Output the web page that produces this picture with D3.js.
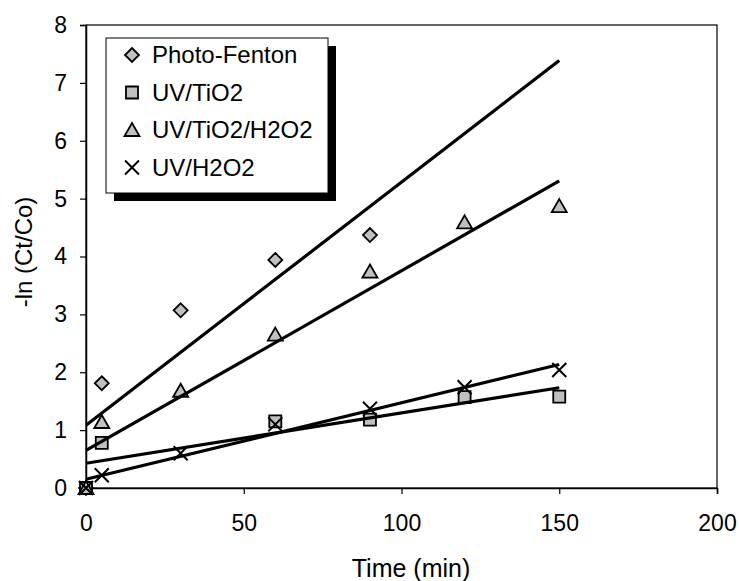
<!DOCTYPE html>
<html>
<head>
<meta charset="utf-8">
<script src="https://cdn.jsdelivr.net/npm/d3@7"></script>
<style>
    body { margin: 0; background: #fff; }
    svg text { font-family: "Liberation Sans", Arial, sans-serif; fill: #000; }
</style>
</head>
<body>
<div id="container"></div>
<script>
    "use strict";

    // time points (min); null = no measurement
    var times = [0, 5, 30, 60, 90, 120, 150];
    var photoFenton = [0, 1.81, 3.07, 3.94, 4.37, null, null];
    var uvTiO2 = [0, 0.78, null, 1.15, 1.18, 1.57, 1.58];
    var uvTiO2H2O2 = [0, 1.14, 1.68, 2.65, 3.74, 4.59, 4.87];
    var uvH2O2 = [0, 0.22, 0.6, 1.1, 1.37, 1.74, 2.04];

    var seriesNames = ["Photo-Fenton", "UV/TiO2", "UV/TiO2/H2O2", "UV/H2O2"];
    var seriesValues = [photoFenton, uvTiO2, uvTiO2H2O2, uvH2O2];
    var symbols = ["diamond", "square", "triangle", "cross"];

    var xTicks = [0, 50, 100, 150, 200];
    var yTicks = [0, 1, 2, 3, 4, 5, 6, 7, 8];

    var margin = { top: 25, left: 86, right: 22, bottom: 93 };
    var width = 739 - margin.left - margin.right,
        height = 581 - margin.top - margin.bottom;

    var x = d3.scaleLinear().domain([0, 200]).range([0, width]),
        y = d3.scaleLinear().domain([0, 8]).range([height, 0]);

    var svg = d3.select("#container").append("svg")
        .attr("width", 739)
        .attr("height", 581);

    var graph = svg.append("g")
        .attr("transform", "translate(" + margin.left + "," + margin.top + ")");

    // plot frame
    graph.append("rect")
        .attr("width", width)
        .attr("height", height)
        .attr("fill", "none")
        .attr("stroke", "#000")
        .attr("stroke-width", 1.2);

    var xAxis = graph.append("g")
        .attr("transform", "translate(0," + height + ")")
        .call(d3.axisBottom(x).tickValues(xTicks).tickSize(6).tickPadding(21));

    var yAxis = graph.append("g")
        .call(d3.axisLeft(y).tickValues(yTicks).tickSize(6).tickPadding(13));

    [xAxis, yAxis].forEach(function(a) {
        a.select(".domain").attr("stroke-width", 1.5);
        a.selectAll("line").attr("stroke-width", 1.2);
        a.selectAll("text")
            .style("font-family", "'Liberation Sans', Arial, sans-serif")
            .style("font-size", "23px");
    });

    svg.append("text")
        .attr("x", 411)
        .attr("y", 577)
        .attr("text-anchor", "middle")
        .style("font-size", "25px")
        .text("Time (min)");

    svg.append("text")
        .attr("transform", "translate(32,252) rotate(-90)")
        .attr("text-anchor", "middle")
        .style("font-size", "24px")
        .text("-ln (Ct/Co)");

    function points(vals) {
        var out = [];
        vals.forEach(function(v, i) {
            if (v !== null) out.push([times[i], v]);
        });
        return out;
    }

    // least squares line, like an Excel linear trendline
    function fit(pts) {
        var mx = d3.mean(pts, function(p) { return p[0]; }),
            my = d3.mean(pts, function(p) { return p[1]; });
        var sxy = d3.sum(pts, function(p) { return (p[0] - mx) * (p[1] - my); }),
            sxx = d3.sum(pts, function(p) { return (p[0] - mx) * (p[0] - mx); });
        var b = sxy / sxx;
        return { slope: b, intercept: my - b * mx };
    }

    function drawSymbol(sel, type) {
        if (type === "cross") {
            sel.append("path")
                .attr("d", "M-7,-7L7,7M-7,7L7,-7")
                .attr("fill", "none")
                .attr("stroke", "#000")
                .attr("stroke-width", 2);
        } else {
            var d;
            if (type === "diamond") d = "M0,-7L7,0L0,7L-7,0Z";
            else if (type === "square") d = "M-6,-6H6V6H-6Z";
            else d = "M0,-7L7.5,6L-7.5,6Z";
            sel.append("path")
                .attr("d", d)
                .attr("fill", "#c0c0c0")
                .attr("stroke", "#000")
                .attr("stroke-width", 1.8);
        }
    }

    var line = d3.line()
        .x(function(d) { return x(d[0]); })
        .y(function(d) { return y(d[1]); });

    // markers
    seriesValues.forEach(function(vals, k) {
        var pts = points(vals);
        graph.selectAll(".m" + k)
            .data(pts)
            .enter().append("g")
                .attr("class", "m" + k)
                .attr("transform", function(d) {
                    return "translate(" + x(d[0]) + "," + y(d[1]) + ")";
                })
                .each(function() { drawSymbol(d3.select(this), symbols[k]); });
    });

    // trend lines
    seriesValues.forEach(function(vals) {
        var pts = points(vals);
        var f = fit(pts);
        var x0 = d3.min(pts, function(p) { return p[0]; }),
            x1 = d3.max(times);
        graph.append("path")
            .datum([[x0, f.intercept + f.slope * x0], [x1, f.intercept + f.slope * x1]])
            .attr("d", line)
            .attr("fill", "none")
            .attr("stroke", "#000")
            .attr("stroke-width", 3.2);
    });

    // legend with shadow
    var legend = svg.append("g").attr("transform", "translate(106,38)");
    legend.append("rect")
        .attr("x", 8).attr("y", 8)
        .attr("width", 222).attr("height", 155)
        .attr("fill", "#000");
    legend.append("rect")
        .attr("width", 222).attr("height", 155)
        .attr("fill", "#fff")
        .attr("stroke", "#000")
        .attr("stroke-width", 1);

    var rows = legend.selectAll(".row")
        .data(seriesNames)
        .enter().append("g")
            .attr("class", "row")
            .attr("transform", function(d, i) {
                return "translate(26," + (17 + i * 37.5) + ")";
            });

    rows.each(function(d, i) { drawSymbol(d3.select(this), symbols[i]); });

    rows.append("text")
        .attr("x", 20)
        .attr("dy", "0.35em")
        .style("font-size", "24px")
        .text(function(d) { return d; });
</script>
</body>
</html>
